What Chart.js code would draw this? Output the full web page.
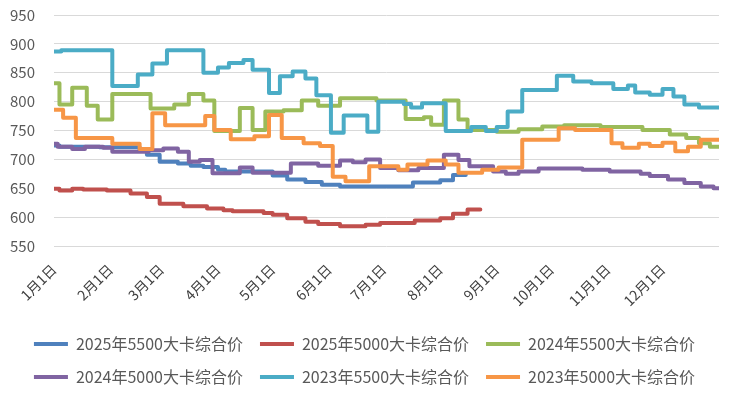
<!DOCTYPE html>
<html>
<head>
<meta charset="utf-8">
<script src="https://cdn.jsdelivr.net/npm/chart.js@4/dist/chart.umd.min.js"></script>
<style>
  html, body { margin: 0; padding: 0; background: #fff; }
  #wrap { width: 737px; height: 395px; }
</style>
</head>
<body>
<div id="wrap"><canvas id="coalChart"></canvas></div>
<script>
// x axis: day of year, ticks on the first of each month
const monthStarts = [0, 31, 59, 90, 120, 151, 181, 212, 243, 273, 304, 334];
const monthLabels = ['1月1日', '2月1日', '3月1日', '4月1日', '5月1日', '6月1日',
                     '7月1日', '8月1日', '9月1日', '10月1日', '11月1日', '12月1日'];

// each series: days where the price changes, and the price from that day on
const days2025_5500 = [0, 3, 25, 47, 51, 58, 68, 75, 82, 90, 94, 120, 128, 138, 147, 157, 197, 212, 219, 226];
const vals2025_5500 = [724, 722, 721, 716, 708, 696, 693, 689, 687, 682, 679, 672, 665, 661, 656, 653, 660, 664, 673, 675];

const days2025_5000 = [0, 3, 10, 16, 29, 42, 51, 58, 71, 84, 93, 98, 115, 120, 128, 138, 145, 157, 171, 179, 198, 212, 219, 227, 234];
const vals2025_5000 = [649, 646, 649, 648, 646, 641, 635, 623, 619, 615, 612, 610, 607, 604, 598, 592, 588, 584, 587, 590, 594, 598, 606, 613, 613];

const days2024_5500 = [0, 3, 10, 18, 24, 32, 53, 66, 74, 82, 88, 102, 109, 116, 126, 136, 145, 157, 177, 193, 203, 207, 214, 222, 227, 243, 255, 268, 280, 300, 323, 338, 347, 354, 360, 365];
const vals2024_5500 = [832, 795, 824, 793, 769, 813, 788, 795, 813, 802, 749, 789, 751, 783, 785, 802, 793, 806, 802, 770, 773, 760, 802, 769, 751, 748, 752, 757, 759, 756, 751, 743, 737, 728, 722, 722];

const days2024_5000 = [0, 2, 10, 17, 27, 32, 52, 60, 68, 74, 80, 87, 102, 109, 130, 145, 157, 164, 171, 179, 189, 200, 214, 222, 228, 241, 248, 255, 266, 290, 305, 322, 327, 337, 346, 355, 362, 365];
const vals2024_5000 = [727, 722, 718, 722, 720, 713, 716, 719, 713, 696, 699, 676, 686, 677, 693, 689, 698, 695, 700, 685, 681, 685, 708, 699, 688, 679, 675, 679, 684, 682, 679, 675, 671, 665, 659, 653, 650, 650];

const days2023_5500 = [0, 4, 32, 46, 54, 62, 82, 90, 96, 104, 109, 118, 124, 131, 138, 144, 152, 159, 172, 178, 192, 196, 202, 215, 229, 237, 243, 249, 257, 276, 285, 295, 307, 315, 319, 327, 334, 340, 346, 354, 365];
const vals2023_5500 = [887, 889, 827, 847, 866, 889, 850, 859, 867, 872, 855, 815, 844, 852, 840, 811, 746, 776, 748, 800, 796, 790, 797, 749, 756, 749, 756, 783, 820, 845, 835, 832, 822, 828, 816, 812, 822, 809, 795, 790, 790];

const days2023_5000 = [0, 5, 12, 32, 47, 54, 61, 83, 88, 97, 110, 118, 125, 137, 146, 153, 160, 173, 189, 194, 205, 215, 222, 235, 244, 257, 277, 286, 306, 312, 321, 327, 334, 341, 348, 355, 365];
const vals2023_5000 = [786, 772, 737, 727, 718, 780, 759, 775, 751, 735, 740, 777, 737, 728, 723, 670, 662, 688, 682, 691, 698, 691, 677, 682, 686, 734, 754, 751, 728, 720, 727, 723, 729, 714, 722, 734, 734];

const seriesNames = ['2025年5500大卡综合价', '2025年5000大卡综合价', '2024年5500大卡综合价',
                     '2024年5000大卡综合价', '2023年5500大卡综合价', '2023年5000大卡综合价'];
const seriesColors = ['#4F81BD', '#C0504D', '#9BBB59', '#8064A2', '#4BACC6', '#F79646'];
const seriesDays = [days2025_5500, days2025_5000, days2024_5500, days2024_5000, days2023_5500, days2023_5000];
const seriesVals = [vals2025_5500, vals2025_5000, vals2024_5500, vals2024_5000, vals2023_5500, vals2023_5000];

Chart.defaults.font.family = "'Noto Sans CJK SC', 'Open Sans', sans-serif";
Chart.defaults.color = '#595959';

const datasets = seriesNames.map((name, i) => ({
    label: name,
    data: seriesDays[i].map((d, j) => ({ x: d, y: seriesVals[i][j] })),
    borderColor: seriesColors[i],
    backgroundColor: seriesColors[i],
    borderWidth: 4,
    stepped: true,
    pointRadius: 0,
    borderJoinStyle: 'round',
    borderCapStyle: 'round',
    // later series sit on top, like the original
    order: seriesNames.length - i
}));

new Chart(document.getElementById('coalChart'), {
    type: 'line',
    data: { datasets: datasets },
    options: {
        responsive: true,
        maintainAspectRatio: false,
        animation: false,
        layout: { padding: { top: 0, right: 18, left: 10, bottom: 0 } },
        scales: {
            x: {
                type: 'linear',
                min: 0,
                max: 365,
                afterBuildTicks: axis => {
                    axis.ticks = monthStarts.map(v => ({ value: v }));
                },
                // fixed band for the rotated labels, no room reserved for the first one
                afterFit: axis => {
                    axis.paddingLeft = 0;
                    axis.paddingRight = 0;
                    axis.height = 73;
                },
                ticks: {
                    autoSkip: false,
                    minRotation: 45,
                    maxRotation: 45,
                    padding: 7,
                    color: '#404040',
                    font: { size: 14 },
                    callback: (value, index) => monthLabels[index]
                },
                grid: { display: false },
                border: { display: false }
            },
            y: {
                min: 550,
                max: 950,
                afterFit: axis => {
                    axis.width = 44;
                    axis.paddingTop = 15;
                    axis.paddingBottom = 0;
                },
                ticks: {
                    stepSize: 50,
                    padding: 19,
                    color: '#595959',
                    font: { size: 15 }
                },
                grid: { color: '#D9D9D9', lineWidth: 1, drawTicks: false },
                border: { display: false }
            }
        },
        plugins: {
            tooltip: { enabled: false },
            legend: {
                position: 'bottom',
                labels: {
                    usePointStyle: true,
                    pointStyle: 'line',
                    pointStyleWidth: 34,
                    padding: 17,
                    color: '#595959',
                    font: { size: 16 },
                    sort: (a, b) => a.datasetIndex - b.datasetIndex
                }
            }
        }
    }
});
</script>
</body>
</html>
